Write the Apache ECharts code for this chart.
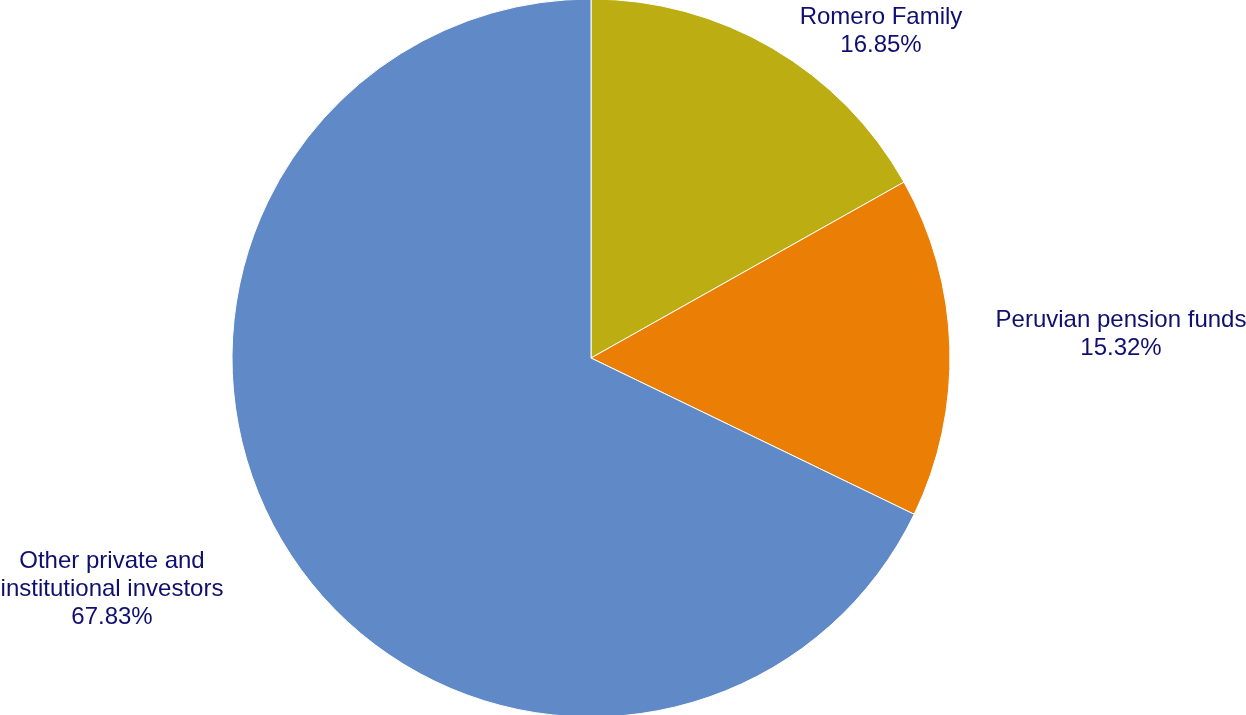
<!DOCTYPE html>
<html>
<head>
<meta charset="utf-8">
<script src="https://cdn.jsdelivr.net/npm/echarts@6/dist/echarts.min.js"></script>
<style>html,body{margin:0;padding:0;background:#fff;}#c{width:1246px;height:715px;}</style>
</head>
<body>
<div id="c"></div>
<script>
const categories = ['Romero Family', 'Peruvian pension funds', 'Other private and\ninstitutional investors'];
const shares = [16.85, 15.32, 67.83];
const colors = ['#BCAD13', '#EB7E05', '#5F8AC7'];
const labelPos = [[881, 31], [1121, 334], [112, 589]];

const chart = echarts.init(document.getElementById('c'), null, {renderer: 'canvas'});
chart.setOption({
  animation: false,
  backgroundColor: '#ffffff',
  series: [{
    type: 'pie',
    center: [591, 358],
    radius: 359,
    startAngle: 90,
    clockwise: true,
    data: categories.map((n, i) => ({name: n, value: shares[i], itemStyle: {color: colors[i]}})),
    itemStyle: {borderColor: '#ffffff', borderWidth: 1},
    label: {
      show: true,
      position: 'outside',
      formatter: p => p.name + '\n' + p.value.toFixed(2) + '%',
      fontFamily: '"Liberation Sans", Arial, sans-serif',
      fontSize: 24,
      lineHeight: 28,
      color: '#0F0F70',
      align: 'center',
      overflow: 'none'
    },
    labelLine: {show: false},
    labelLayout: function (params) {
      const p = labelPos[params.dataIndex];
      return {x: p[0], y: p[1], align: 'center', verticalAlign: 'middle'};
    },
    emphasis: {disabled: true}
  }]
});
</script>
</body>
</html>
